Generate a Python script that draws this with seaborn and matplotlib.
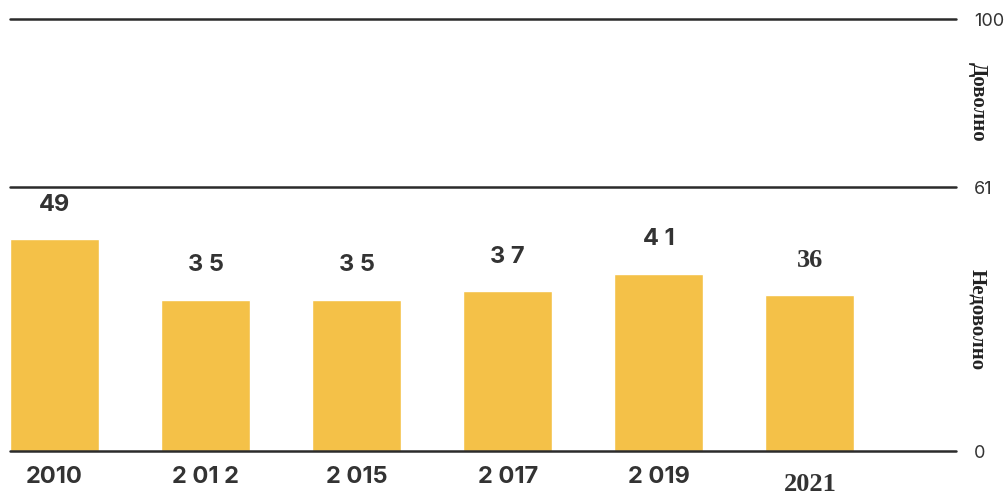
import matplotlib
matplotlib.use("Agg")
import matplotlib.pyplot as plt
import matplotlib.transforms as mtransforms
import seaborn as sns
import pandas as pd

years = ["2010", "2 01 2", "2 015", "2 017", "2 019", "2021"]
values = [49, 35, 35, 37, 41, 36]
value_labels = ["49", "3 5", "3 5", "3 7", "4 1", "36"]
serif_flags = [False, False, False, False, False, True]
right_ticks = [0, 61, 100]
zone_labels = ["Доволно", "Недоволно"]
zone_centers = [80.8, 30.5]

sns.set_theme(style="white")
plt.rcParams["font.family"] = ["Inter", "DejaVu Sans"]

BAR = "#F4C148"
INK = "#333333"
LINE = "#2b2b2b"

fig = plt.figure(figsize=(10.08, 4.95), dpi=100)
ax = fig.add_axes([10 / 1008, 44 / 495, 946 / 1008, 432 / 495])

df = pd.DataFrame({"year": years, "value": values})
sns.barplot(data=df, x="year", y="value", color=BAR, saturation=1,
            width=0.59, ax=ax, order=years)

ax.set_ylim(0, 100)
ax.set_xlim(-0.295, 5.967)
for s in ax.spines.values():
    s.set_visible(False)
for yv in right_ticks:
    ax.axhline(yv, color=LINE, lw=1.8, zorder=3, clip_on=False)

SANS_BOLD = ["Inter", "DejaVu Sans"]

# value labels
for i, (v, lab, serif) in enumerate(zip(values, value_labels, serif_flags)):
    fam = ["Liberation Serif"] if serif else SANS_BOLD
    fs = 19 if serif else 17
    ax.text(i, v + 8, lab, ha="center", va="center", fontsize=fs,
            fontweight="bold", color=INK, family=fam)

# x tick labels
ax.set_xticks(range(len(years)))
ax.set_xticklabels([])
ax.tick_params(axis="x", length=0)
ax.set_xlabel("")
trans_x = mtransforms.blended_transform_factory(ax.transData, ax.transAxes)
for i, (yr, serif) in enumerate(zip(years, serif_flags)):
    fam = ["Liberation Serif"] if serif else SANS_BOLD
    off = -0.077 if serif else -0.06
    fs = 19 if serif else 17
    ax.text(i, off, yr, ha="center", va="center", fontsize=fs,
            fontweight="bold", color=INK, family=fam, transform=trans_x)

# right axis ticks
ax.yaxis.tick_right()
ax.set_yticks(right_ticks)
ax.set_yticklabels([str(t) for t in right_ticks], fontsize=13, color=INK,
                   family=["Inter", "DejaVu Sans"])
ax.tick_params(axis="y", length=0, pad=13, labelcolor=INK)
ax.set_ylabel("")

trans_y = mtransforms.blended_transform_factory(ax.transAxes, ax.transData)
for lab, yc in zip(zone_labels, zone_centers):
    ax.text(1.0225, yc, lab, rotation=-90, ha="center", va="center",
            fontsize=15, fontweight="bold", color="#222222",
            family=["Liberation Serif"], transform=trans_y)

fig.savefig("out.png", dpi=100, facecolor="white")
